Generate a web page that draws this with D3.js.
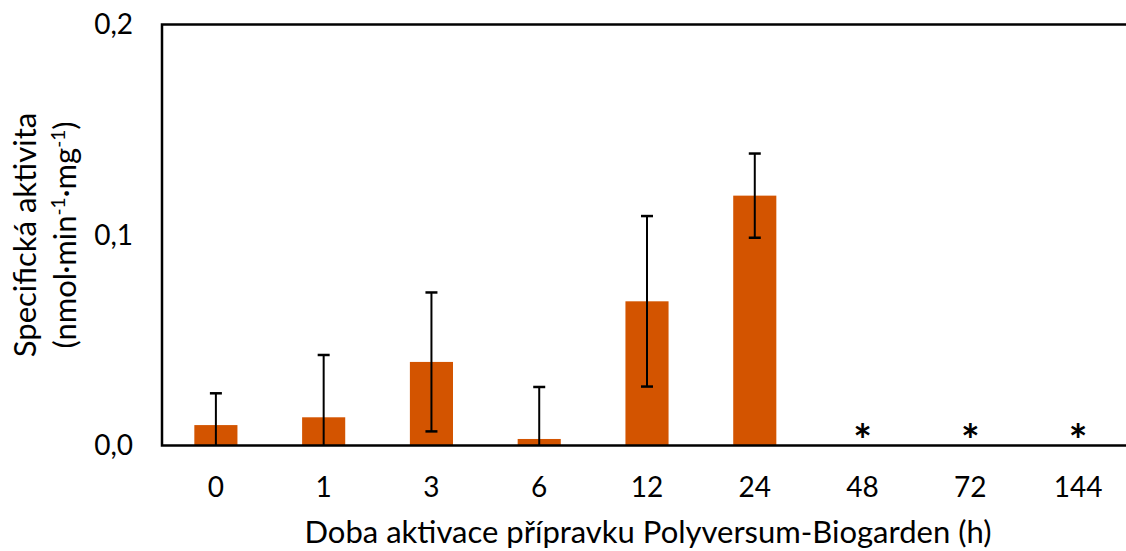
<!DOCTYPE html>
<html>
<head>
<meta charset="utf-8">
<script src="https://cdn.jsdelivr.net/npm/d3@7"></script>
<style>
  body { margin: 0; background: white; }
  text { font-family: Lato, "Open Sans", sans-serif; fill: #000; }
</style>
</head>
<body>
<script>
// data
var categories = ["0", "1", "3", "6", "12", "24", "48", "72", "144"]
var values = [0.0097, 0.0134, 0.0397, 0.0031, 0.0685, 0.1187, null, null, null]
var errors = [0.0151, 0.0296, 0.0330, 0.0247, 0.0405, 0.0200, null, null, null]
var yTicks = [0, 0.1, 0.2]

var w = 1126
var h = 551
var m_left = 162, m_right = 1132, m_top = 24.5, m_bottom = 445.5

var svg = d3.select("body")
            .append("svg")
            .attr("width", w)
            .attr("height", h)

var x = d3.scaleBand()
          .domain(categories)
          .range([m_left, m_right])
          .paddingInner(0.6)
          .paddingOuter(0.3)

var y = d3.scaleLinear()
          .domain([0, 0.2])
          .range([m_bottom, m_top])

var rows = categories.map((c, i) => ({c: c, v: values[i], e: errors[i]}))
var present = rows.filter(d => d.v !== null)

// bars
svg.selectAll(".bar")
    .data(present)
    .enter()
    .append("rect")
    .attr("class", "bar")
    .attr("x", d => x(d.c))
    .attr("y", d => y(d.v))
    .attr("width", x.bandwidth())
    .attr("height", d => y(0) - y(d.v))
    .attr("fill", "#d35400")

// error bars
var eb = svg.selectAll(".err")
    .data(present)
    .enter()
    .append("g")
    .attr("class", "err")

var cx = d => x(d.c) + x.bandwidth() / 2
var lo = d => Math.max(0, d.v - d.e)

eb.append("line")
    .attr("x1", cx).attr("x2", cx)
    .attr("y1", d => y(d.v + d.e))
    .attr("y2", d => y(lo(d)))
    .attr("stroke", "#000")
    .attr("stroke-width", 2)

eb.append("line")
    .attr("x1", d => cx(d) - 6).attr("x2", d => cx(d) + 6)
    .attr("y1", d => y(d.v + d.e)).attr("y2", d => y(d.v + d.e))
    .attr("stroke", "#000")
    .attr("stroke-width", 2.5)

eb.filter(d => d.v - d.e > 0)
    .append("line")
    .attr("x1", d => cx(d) - 6).attr("x2", d => cx(d) + 6)
    .attr("y1", d => y(lo(d))).attr("y2", d => y(lo(d)))
    .attr("stroke", "#000")
    .attr("stroke-width", 2.5)

// asterisks for missing values
svg.selectAll(".star")
    .data(rows.filter(d => d.v === null))
    .enter()
    .append("text")
    .attr("x", d => x(d.c) + x.bandwidth() / 2)
    .attr("y", m_bottom + 10)
    .attr("text-anchor", "middle")
    .style("font-size", "44px")
    .style("font-weight", "bold")
    .text("*")

// frame
svg.append("path")
    .attr("d", d3.line()([[m_right, m_top], [m_left, m_top], [m_left, m_bottom], [m_right, m_bottom]]))
    .attr("fill", "none")
    .attr("stroke", "#000")
    .attr("stroke-width", 2.5)

// y tick labels
svg.selectAll(".ytick")
    .data(yTicks)
    .enter()
    .append("text")
    .attr("x", 133)
    .attr("y", d => y(d))
    .attr("dy", "0.35em")
    .attr("text-anchor", "end")
    .style("font-size", "28px")
    .text(d => d3.format(".1f")(d).replace(".", ","))

// x tick labels
svg.selectAll(".xtick")
    .data(categories)
    .enter()
    .append("text")
    .attr("x", d => x(d) + x.bandwidth() / 2)
    .attr("y", 497)
    .attr("text-anchor", "middle")
    .style("font-size", "28px")
    .text(d => d)

// axis titles
svg.append("text")
    .attr("x", 648)
    .attr("y", 543)
    .attr("text-anchor", "middle")
    .style("font-size", "31px")
    .text("Doba aktivace přípravku Polyversum-Biogarden (h)")

var yl = svg.append("text")
    .attr("transform", "translate(0,235) rotate(-90)")
    .attr("text-anchor", "middle")
    .style("font-size", "31px")

yl.append("tspan").attr("x", 0).attr("y", 36).text("Specifická  aktivita")
var t2 = yl.append("tspan").attr("x", 0).attr("y", 76)
t2.append("tspan").text("(nmol·min")
t2.append("tspan").attr("dy", -11).style("font-size", "19px").text("-1")
t2.append("tspan").attr("dy", 11).text("·mg")
t2.append("tspan").attr("dy", -11).style("font-size", "19px").text("-1")
t2.append("tspan").attr("dy", 11).text(")")
</script>
</body>
</html>
